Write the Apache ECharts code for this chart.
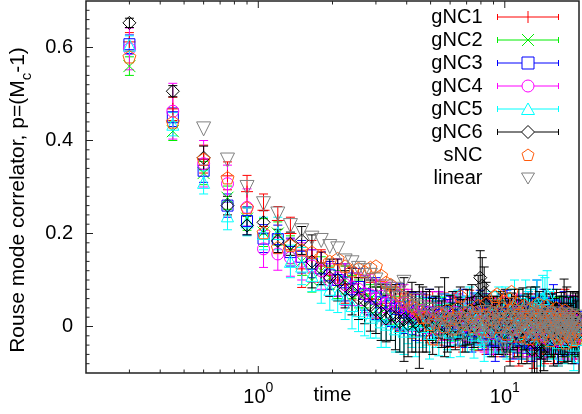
<!DOCTYPE html>
<html><head><meta charset="utf-8">
<script src="https://cdn.jsdelivr.net/npm/echarts@6/dist/echarts.min.js"></script>
<style>html,body{margin:0;padding:0;background:#fff}#c{width:582px;height:414px}</style>
</head><body><div id="c"></div>
<script>
const times = [
0.3,0.45,0.6,0.75,0.9,1.05,1.2,1.35,1.5,1.65,
1.8,1.95,2.1,2.25,2.4,2.55,2.7,2.85,3.0,3.15,
3.3,3.45,3.6,3.75,3.9,4.05,4.2,4.35,4.5,4.65,
4.8,4.95,5.1,5.25,5.4,5.55,5.7,5.85,6.0,6.15,
6.3,6.45,6.6,6.75,6.9,7.05,7.2,7.35,7.5,7.65,
7.8,7.95,8.1,8.25,8.4,8.55,8.7,8.85,9.0,9.15,
9.3,9.45,9.6,9.75,9.9,10.05,10.2,10.35,10.5,10.65,
10.8,10.95,11.1,11.25,11.4,11.55,11.7,11.85,12.0,12.15,
12.3,12.45,12.6,12.75,12.9,13.05,13.2,13.35,13.5,13.65,
13.8,13.95,14.1,14.25,14.4,14.55,14.7,14.85,15.0,15.15,
15.3,15.45,15.6,15.75,15.9,16.05,16.2,16.35,16.5,16.65,
16.8,16.95,17.1,17.25,17.4,17.55,17.7,17.85,18.0,18.15,
18.3,18.45,18.6,18.75,18.9,19.05,19.2,19.35,19.5,19.65,
19.8,19.95];

const gNC1_y = [
0.612,0.468,0.36,0.324,0.29,0.25,0.228,0.2,0.124,0.15,
0.13,0.11,0.1,0.09,0.092,0.075,0.07,0.06,0.058,0.05,
0.045,0.05,0.04,0.03,0.045,0.035,0.02,0.03,0.025,0.015,
0.028,0.01,0.035,0.018,0.005,0.03,0.022,0.012,0.0,0.025,
0.015,0.03,0.005,-0.01,0.02,0.012,0.028,-0.005,0.01,0.02,
-0.012,0.015,0.005,0.025,-0.02,0.0,0.018,0.008,-0.015,0.01,
0.022,-0.005,0.012,-0.025,0.005,0.015,-0.01,0.02,-0.03,0.0,
0.01,-0.018,0.025,-0.005,-0.035,0.008,0.015,-0.02,0.005,-0.012,
0.02,-0.03,0.0,0.012,-0.015,-0.04,0.01,0.025,-0.008,-0.02,
0.005,0.018,-0.025,-0.01,0.015,-0.035,0.0,0.02,-0.015,0.008,
-0.022,0.01,-0.005,0.028,-0.03,-0.012,0.015,0.0,-0.04,0.012,
-0.008,0.02,-0.025,0.005,-0.015,0.03,-0.02,0.0,0.01,-0.03,
0.015,-0.01,-0.035,0.008,0.02,-0.018,0.0,-0.025,0.012,-0.005,
0.018,-0.02];
const gNC1_err = [
0.02,0.025,0.03,0.03,0.035,0.035,0.03,0.035,0.04,0.035,
0.035,0.03,0.035,0.04,0.035,0.03,0.04,0.035,0.04,0.035,
0.04,0.035,0.045,0.04,0.035,0.04,0.045,0.04,0.035,0.045,
0.04,0.045,0.04,0.035,0.045,0.04,0.05,0.04,0.045,0.04,
0.045,0.04,0.05,0.045,0.04,0.045,0.05,0.04,0.045,0.05,
0.04,0.045,0.05,0.045,0.04,0.05,0.045,0.04,0.05,0.045,
0.04,0.05,0.045,0.04,0.05,0.045,0.05,0.04,0.045,0.05,
0.045,0.05,0.04,0.045,0.05,0.04,0.045,0.05,0.045,0.04,
0.05,0.045,0.04,0.05,0.045,0.05,0.04,0.045,0.05,0.045,
0.04,0.05,0.045,0.05,0.04,0.045,0.05,0.045,0.04,0.05,
0.045,0.05,0.04,0.045,0.05,0.045,0.04,0.05,0.045,0.05,
0.04,0.045,0.05,0.045,0.04,0.05,0.045,0.05,0.04,0.045,
0.05,0.045,0.04,0.05,0.045,0.04,0.05,0.045,0.05,0.04,
0.045,0.05];

const gNC2_y = [
0.56,0.42,0.33,0.277,0.232,0.202,0.2,0.165,0.14,0.099,
0.12,0.105,0.09,0.1,0.085,0.07,0.075,0.06,0.055,0.05,
0.04,0.048,0.035,0.04,0.03,0.025,0.035,0.02,0.03,0.015,
0.025,0.02,0.01,0.03,0.015,0.022,0.005,0.02,0.012,0.028,
0.0,0.015,0.025,0.008,-0.005,0.02,0.01,0.03,-0.01,0.012,
0.02,0.0,-0.015,0.018,0.005,0.025,-0.008,0.01,0.015,-0.02,
0.008,0.02,-0.01,0.0,0.015,-0.025,0.01,0.005,-0.012,0.022,
-0.005,0.012,-0.02,0.018,0.0,-0.03,0.01,0.02,-0.015,0.005,
-0.008,0.015,0.025,-0.02,0.0,0.01,-0.025,0.018,-0.005,0.012,
-0.03,0.005,0.02,-0.012,0.008,-0.02,0.015,-0.005,0.025,-0.015,
0.0,0.012,-0.028,0.018,-0.008,0.005,-0.018,0.022,0.0,-0.012,
0.015,-0.025,0.008,0.0,-0.015,0.02,-0.005,-0.03,0.01,0.005,
-0.02,0.012,0.0,-0.01,0.025,-0.022,0.008,-0.005,0.015,-0.028,
0.002,0.01];
const gNC2_err = [
0.02,0.02,0.025,0.025,0.025,0.03,0.025,0.03,0.03,0.025,
0.03,0.025,0.03,0.03,0.025,0.03,0.035,0.03,0.03,0.035,
0.03,0.035,0.03,0.04,0.035,0.03,0.035,0.04,0.03,0.035,
0.035,0.03,0.04,0.035,0.03,0.04,0.035,0.03,0.035,0.04,
0.03,0.035,0.04,0.03,0.035,0.04,0.035,0.03,0.04,0.035,
0.035,0.04,0.03,0.035,0.04,0.035,0.03,0.04,0.035,0.03,
0.04,0.035,0.03,0.04,0.035,0.04,0.03,0.035,0.04,0.035,
0.03,0.04,0.035,0.03,0.04,0.035,0.035,0.04,0.03,0.035,
0.04,0.03,0.035,0.04,0.035,0.03,0.04,0.035,0.04,0.03,
0.035,0.04,0.03,0.035,0.04,0.035,0.03,0.04,0.035,0.04,
0.03,0.035,0.04,0.035,0.03,0.04,0.035,0.04,0.03,0.035,
0.04,0.035,0.03,0.04,0.035,0.03,0.04,0.035,0.035,0.04,
0.03,0.035,0.04,0.03,0.035,0.04,0.035,0.03,0.04,0.035,
0.035,0.04];

const gNC3_y = [
0.607,0.45,0.335,0.26,0.227,0.189,0.188,0.16,0.15,0.135,
0.125,0.11,0.1,0.095,0.08,0.085,0.07,0.065,0.06,0.052,
0.05,0.045,0.038,0.042,0.03,0.035,0.028,0.02,0.032,0.025,
0.018,0.03,0.022,0.01,0.025,0.015,0.03,0.008,0.02,0.012,
0.025,0.005,0.018,0.03,0.0,0.015,0.01,-0.01,0.022,0.005,
0.012,0.028,-0.005,0.01,0.02,-0.015,0.008,0.015,0.0,-0.03,
-0.01,0.012,0.005,0.02,-0.02,0.01,0.028,-0.005,0.0,0.015,
-0.025,0.008,0.018,-0.012,0.005,0.022,-0.03,0.0,0.012,-0.008,
0.015,0.03,-0.015,0.002,-0.035,0.01,0.02,-0.01,0.05,0.025,
-0.02,0.008,-0.005,0.015,0.035,-0.012,0.0,0.018,-0.025,0.01,
0.005,-0.015,0.02,0.045,0.0,-0.01,0.012,-0.03,0.008,0.02,
-0.005,0.015,-0.02,0.01,0.03,-0.012,0.0,0.018,-0.025,0.005,
0.012,-0.008,0.02,-0.018,0.0,0.01,-0.03,0.015,-0.005,0.008,
-0.015,0.02];
const gNC3_err = [
0.02,0.02,0.025,0.025,0.03,0.03,0.03,0.03,0.035,0.03,
0.035,0.03,0.035,0.04,0.035,0.04,0.035,0.04,0.045,0.04,
0.04,0.045,0.04,0.05,0.045,0.04,0.045,0.05,0.04,0.045,
0.045,0.05,0.04,0.045,0.05,0.045,0.04,0.05,0.045,0.04,
0.05,0.045,0.04,0.05,0.045,0.05,0.04,0.045,0.05,0.045,
0.04,0.05,0.045,0.04,0.05,0.045,0.05,0.04,0.045,0.045,
0.05,0.045,0.04,0.05,0.045,0.04,0.05,0.045,0.05,0.04,
0.045,0.05,0.04,0.045,0.05,0.045,0.04,0.05,0.045,0.05,
0.04,0.045,0.05,0.045,0.04,0.05,0.045,0.04,0.05,0.045,
0.05,0.04,0.045,0.05,0.045,0.04,0.05,0.045,0.04,0.05,
0.045,0.04,0.05,0.045,0.05,0.04,0.045,0.05,0.045,0.04,
0.05,0.045,0.04,0.05,0.045,0.05,0.04,0.045,0.05,0.045,
0.04,0.05,0.045,0.04,0.05,0.045,0.05,0.04,0.045,0.05,
0.045,0.04];

const gNC4_y = [
0.597,0.463,0.35,0.307,0.256,0.167,0.156,0.148,0.14,0.13,
0.12,0.1,0.105,0.09,0.085,0.08,0.07,0.068,0.06,0.065,
0.05,0.055,0.045,0.04,0.05,0.035,0.04,0.03,0.025,0.035,
0.02,0.03,0.025,0.015,0.03,0.01,0.025,0.02,0.005,0.018,
0.03,0.01,0.02,0.0,0.015,0.025,0.005,0.018,0.03,-0.005,
0.01,0.02,0.005,-0.01,0.025,0.012,0.0,0.02,-0.015,0.008,
0.015,-0.005,0.025,0.0,0.01,-0.02,0.018,0.005,-0.01,0.012,
0.02,-0.015,0.005,0.03,-0.008,0.01,-0.025,0.015,0.0,0.022,
-0.012,0.005,0.018,-0.02,0.01,0.0,0.025,-0.03,0.008,-0.005,
0.015,-0.018,0.022,0.0,-0.01,0.012,-0.025,0.005,0.018,-0.008,
0.01,-0.02,0.0,0.015,-0.012,0.025,-0.005,0.008,-0.03,0.012,
0.0,0.018,-0.015,0.005,0.02,-0.025,0.01,-0.008,0.015,0.0,
-0.018,0.022,0.005,-0.012,0.01,-0.03,0.018,0.0,-0.01,0.012,
-0.02,0.005];
const gNC4_err = [
0.045,0.06,0.05,0.04,0.04,0.04,0.035,0.04,0.04,0.035,
0.04,0.035,0.04,0.045,0.04,0.035,0.04,0.045,0.04,0.035,
0.045,0.04,0.035,0.045,0.04,0.045,0.035,0.04,0.045,0.04,
0.035,0.045,0.04,0.035,0.045,0.04,0.045,0.035,0.04,0.045,
0.04,0.035,0.045,0.04,0.045,0.035,0.04,0.045,0.04,0.035,
0.045,0.04,0.035,0.045,0.04,0.045,0.035,0.04,0.045,0.04,
0.035,0.045,0.04,0.045,0.035,0.04,0.045,0.04,0.035,0.045,
0.04,0.035,0.045,0.04,0.045,0.035,0.04,0.045,0.04,0.035,
0.045,0.04,0.035,0.045,0.04,0.045,0.035,0.04,0.045,0.04,
0.035,0.045,0.04,0.045,0.035,0.04,0.045,0.04,0.035,0.045,
0.04,0.035,0.045,0.04,0.045,0.035,0.04,0.045,0.04,0.035,
0.045,0.04,0.035,0.045,0.04,0.045,0.035,0.04,0.045,0.04,
0.035,0.045,0.04,0.045,0.035,0.04,0.045,0.04,0.035,0.045,
0.04,0.045];

const gNC5_y = [
0.605,0.435,0.31,0.238,0.225,0.2,0.2,0.14,0.13,0.11,
0.09,0.08,0.07,0.06,0.045,0.034,0.03,0.02,0.025,0.01,
0.005,0.015,-0.005,0.0,-0.01,0.008,0.005,-0.01,0.015,0.0,
0.01,-0.015,0.02,0.005,-0.008,0.015,0.025,0.0,-0.012,0.018,
0.005,0.028,-0.01,0.012,0.02,-0.005,0.03,0.008,-0.018,0.015,
0.022,0.0,0.01,-0.02,0.018,0.005,-0.01,0.025,0.012,-0.005,
0.02,0.035,-0.012,0.008,0.0,0.04,-0.02,0.015,0.03,-0.008,
0.012,0.045,0.0,-0.015,0.025,0.01,-0.025,0.018,0.005,0.05,
-0.01,0.02,0.008,0.035,-0.02,0.0,0.015,0.04,0.05,-0.012,
0.01,0.025,-0.03,0.06,0.018,0.055,-0.008,0.07,0.0,-0.02,
0.02,0.008,-0.015,0.03,0.0,-0.025,0.015,0.005,-0.035,0.012,
0.0,-0.018,0.02,-0.008,0.01,-0.03,0.005,0.015,-0.02,0.0,
0.012,-0.025,0.008,-0.01,0.018,-0.04,0.0,0.01,-0.015,0.005,
-0.028,0.01];
const gNC5_err = [
0.02,0.025,0.025,0.03,0.03,0.035,0.035,0.035,0.04,0.035,
0.04,0.045,0.04,0.045,0.05,0.045,0.05,0.045,0.05,0.055,
0.05,0.045,0.05,0.055,0.05,0.045,0.05,0.055,0.05,0.045,
0.05,0.055,0.045,0.05,0.055,0.05,0.045,0.05,0.055,0.05,
0.045,0.05,0.055,0.05,0.045,0.05,0.055,0.045,0.05,0.055,
0.05,0.045,0.05,0.055,0.05,0.045,0.055,0.05,0.045,0.05,
0.055,0.05,0.045,0.05,0.055,0.045,0.05,0.055,0.05,0.045,
0.05,0.055,0.045,0.05,0.055,0.05,0.045,0.05,0.055,0.05,
0.045,0.055,0.05,0.045,0.05,0.055,0.05,0.045,0.05,0.055,
0.05,0.045,0.055,0.05,0.045,0.05,0.055,0.05,0.045,0.05,
0.055,0.05,0.045,0.05,0.055,0.045,0.05,0.055,0.05,0.045,
0.05,0.055,0.045,0.05,0.055,0.05,0.045,0.05,0.055,0.05,
0.045,0.05,0.055,0.05,0.045,0.055,0.05,0.045,0.05,0.055,
0.05,0.045];

const gNC6_y = [
0.653,0.506,0.363,0.26,0.217,0.224,0.184,0.178,0.185,0.14,
0.125,0.105,0.1,0.08,0.075,0.06,0.056,0.045,0.035,0.03,
0.017,0.025,0.02,0.01,0.015,0.005,0.02,0.01,0.0,0.015,
0.01,0.025,0.0,0.015,0.03,0.005,0.02,-0.005,0.012,0.025,
0.0,0.018,0.03,0.008,-0.01,0.02,0.012,0.035,0.0,0.015,
0.06,0.105,0.088,0.073,0.045,0.02,0.01,-0.01,0.02,0.005,
0.02,-0.005,0.025,0.01,-0.015,0.03,0.0,0.015,-0.025,0.022,
0.0,0.035,0.01,-0.015,0.02,0.012,-0.03,0.028,-0.005,0.015,
-0.02,0.02,0.005,0.03,-0.05,0.01,-0.035,0.025,-0.04,0.005,
0.02,-0.055,-0.01,0.015,-0.03,0.0,0.03,-0.015,0.01,-0.005,
0.02,-0.01,0.025,-0.025,0.01,-0.005,0.035,0.0,-0.02,0.015,
-0.005,0.028,-0.015,0.01,0.012,-0.01,0.005,0.03,-0.025,0.018,
-0.005,0.02,0.005,-0.02,0.025,0.01,-0.015,0.022,0.0,0.015,
-0.015,0.02];
const gNC6_err = [
0.01,0.012,0.025,0.02,0.02,0.025,0.025,0.025,0.03,0.057,
0.035,0.04,0.045,0.04,0.05,0.045,0.05,0.055,0.05,0.06,
0.05,0.055,0.07,0.065,0.09,0.07,0.075,0.065,0.09,0.07,
0.065,0.055,0.06,0.05,0.055,0.05,0.085,0.05,0.055,0.05,
0.05,0.045,0.055,0.05,0.045,0.06,0.05,0.055,0.045,0.05,
0.05,0.058,0.06,0.055,0.05,0.045,0.05,0.055,0.045,0.05,
0.045,0.055,0.05,0.06,0.045,0.05,0.055,0.045,0.06,0.05,
0.05,0.045,0.055,0.05,0.06,0.045,0.05,0.055,0.045,0.05,
0.06,0.05,0.045,0.055,0.07,0.05,0.065,0.06,0.07,0.05,
0.055,0.07,0.06,0.05,0.065,0.055,0.05,0.06,0.045,0.055,
0.05,0.055,0.045,0.06,0.05,0.055,0.045,0.05,0.06,0.05,
0.055,0.045,0.05,0.055,0.09,0.05,0.045,0.055,0.05,0.045,
0.05,0.055,0.045,0.06,0.05,0.055,0.045,0.05,0.055,0.06,
0.05,0.055];

const sNC_y = [
0.58,0.44,0.36,0.32,0.256,0.202,0.17,0.175,0.165,0.16,
0.15,0.14,0.146,0.13,0.12,0.125,0.118,0.127,0.13,0.11,
0.095,0.09,0.075,0.067,0.055,0.06,0.045,0.04,0.034,0.02,
0.02,0.005,-0.026,0.01,0.03,0.025,0.0,0.035,0.015,-0.005,
0.02,0.04,0.066,0.01,0.028,0.005,0.035,0.022,0.0,0.03,
0.045,0.01,-0.005,0.025,0.05,0.018,-0.01,0.032,0.015,0.065,
0.07,0.03,0.0,0.04,0.055,0.01,-0.015,0.025,0.06,0.075,
0.04,-0.005,0.02,0.05,-0.02,0.03,0.01,-0.01,0.045,0.018,
0.0,0.035,-0.025,0.022,0.04,0.005,0.028,-0.015,0.015,0.05,
-0.005,0.02,0.035,-0.02,0.01,0.03,0.0,0.045,-0.01,0.022,
-0.03,0.015,0.032,-0.005,0.02,-0.015,0.04,0.01,-0.025,0.025,
0.0,0.03,-0.02,0.015,-0.01,0.035,-0.035,0.02,-0.005,0.01,
0.028,-0.02,0.0,0.015,-0.03,0.022,-0.01,0.01,-0.025,0.02,
-0.005,-0.015];

const linear_y = [
null,null,0.425,0.358,0.299,0.264,0.242,0.217,0.206,0.19,
0.185,0.172,0.167,0.141,0.137,0.125,0.12,0.11,0.1,0.077,
0.085,0.07,0.08,0.06,0.095,0.05,0.045,0.056,0.04,0.03,
0.02,0.035,0.01,0.0,0.025,-0.01,0.015,0.005,-0.005,0.025,
0.01,-0.03,0.0,0.015,-0.015,0.027,0.005,-0.01,0.02,-0.005,
0.015,-0.015,0.005,0.03,-0.025,0.0,0.02,-0.01,0.01,0.025,
-0.02,0.005,0.015,-0.005,-0.03,-0.05,0.02,0.0,-0.015,0.015,
-0.005,0.025,-0.02,0.01,-0.01,0.03,0.005,-0.025,0.015,-0.005,
0.02,-0.015,0.0,0.035,-0.01,0.01,-0.02,0.025,-0.005,0.015,
-0.025,0.005,0.03,-0.01,0.01,-0.015,0.02,0.0,-0.02,0.025,
-0.005,0.015,-0.015,0.005,0.027,-0.01,-0.025,0.015,0.0,-0.015,
0.02,-0.005,0.005,-0.02,0.015,-0.01,0.025,0.0,-0.015,0.01,
-0.005,0.023,-0.02,0.005,-0.01,0.015,-0.025,0.0,0.02,-0.015,
0.005,-0.005];

const xMajorTicks = [1, 10];
const xMinorTicks = [0.3,0.4,0.5,0.6,0.7,0.8,0.9,2,3,4,5,6,7,8,9];
const yMajorTicks = [0, 0.2, 0.4, 0.6];
const X_MIN = 0.2, X_MAX = 20, Y_MIN = -0.1, Y_MAX = 0.7;

const FONT = '"Liberation Sans", Arial, sans-serif';
const AXIS_COLOR = '#222';

function pts(ys) {
  const out = [];
  for (let i = 0; i < times.length; i++) {
    const v = ys[i];
    if (v === null || v === undefined) continue;
    out.push([times[i], v]);
  }
  return out;
}
function errPts(ys, es) {
  const out = [];
  for (let i = 0; i < times.length; i++) {
    const v = ys[i], e = es[i];
    if (v === null || v === undefined || e === undefined) continue;
    out.push([times[i], v, e]);
  }
  return out;
}
function errRender(color) {
  return function (params, api) {
    const x = api.value(0), y = api.value(1), e = api.value(2);
    const hi = api.coord([x, y + e]), lo = api.coord([x, y - e]);
    const w = 4.5;
    const st = { stroke: color, lineWidth: 1, fill: null };
    return { type: 'group', children: [
      { type: 'line', shape: { x1: hi[0], y1: hi[1], x2: lo[0], y2: lo[1] }, style: st },
      { type: 'line', shape: { x1: hi[0] - w, y1: hi[1], x2: hi[0] + w, y2: hi[1] }, style: st },
      { type: 'line', shape: { x1: lo[0] - w, y1: lo[1], x2: lo[0] + w, y2: lo[1] }, style: st }
    ]};
  };
}

const BOX = 'M0,0M61,14';
const BAR = 'M0,4L0,10M61,4L61,10';
const defs = [
  { name: 'gNC1', y: gNC1_y, e: gNC1_err, color: '#ff0000', symbol: 'path://M6,0L6,12M0,6L12,6', size: 12, rotate: 0,
    icon: 'path://' + BOX + BAR + 'M0,7L61,7M30.5,1L30.5,13' },
  { name: 'gNC2', y: gNC2_y, e: gNC2_err, color: '#00ee00', symbol: 'path://M0,0L12,12M0,12L12,0', size: 12, rotate: 0,
    icon: 'path://' + BOX + BAR + 'M0,7L61,7M24.5,1L36.5,13M24.5,13L36.5,1' },
  { name: 'gNC3', y: gNC3_y, e: gNC3_err, color: '#0000ff', symbol: 'rect', size: 11, rotate: 0,
    icon: 'path://' + BOX + BAR + 'M0,7L24.5,7M36.5,7L61,7M24.5,1L36.5,1L36.5,13L24.5,13Z' },
  { name: 'gNC4', y: gNC4_y, e: gNC4_err, color: '#ff00ff', symbol: 'circle', size: 12, rotate: 0,
    icon: 'path://' + BOX + BAR + 'M0,7L24.5,7M36.5,7L61,7M24.5,7A6,6 0 1,0 36.5,7A6,6 0 1,0 24.5,7Z' },
  { name: 'gNC5', y: gNC5_y, e: gNC5_err, color: '#00ffff', symbol: 'triangle', size: 12, rotate: 0,
    icon: 'path://' + BOX + BAR + 'M0,7L27,7M34,7L61,7M30.5,1L37,12.5L24,12.5Z' },
  { name: 'gNC6', y: gNC6_y, e: gNC6_err, color: '#000000', symbol: 'diamond', size: 13, rotate: 0,
    icon: 'path://' + BOX + BAR + 'M0,7L24,7M37,7L61,7M30.5,0.5L37,7L30.5,13.5L24,7Z' },
  { name: 'sNC', y: sNC_y, e: null, color: '#ff5a0a', symbol: 'path://M0,-1L0.951,-0.309L0.588,0.809L-0.588,0.809L-0.951,-0.309Z', size: 13, rotate: 0,
    icon: 'path://' + BOX + 'M30.5,1L36.5,5.3L34.2,12.5L26.8,12.5L24.5,5.3Z' },
  { name: 'linear', y: linear_y, e: null, color: '#808080', symbol: 'triangle', size: 14, rotate: 180,
    icon: 'path://' + BOX + 'M24,2L37,2L30.5,13Z' }
];

const series = [];
defs.forEach(function (d) {
  if (d.e) {
    series.push({
      type: 'custom', name: d.name + ' err', silent: true, clip: true,
      encode: { x: 0, y: 1 },
      data: errPts(d.y, d.e),
      renderItem: errRender(d.color)
    });
  }
  series.push({
    type: 'scatter', name: d.name, silent: true, clip: true,
    symbol: d.symbol, symbolSize: d.size, symbolRotate: d.rotate, symbolKeepAspect: true,
    itemStyle: { color: 'none', borderColor: d.color, borderWidth: 1, opacity: 1 },
    emphasis: { disabled: true },
    data: pts(d.y)
  });
});

// axis ticks (inward, mirrored top), placed through the axis scales
function tickSeries(vals, axis, len) {
  return {
    type: 'custom', name: 'ticks', silent: true, clip: false, z: 10,
    encode: { x: 0, y: 1 },
    data: vals.map(function (v) { return axis === 'x' ? [v, 0] : [1, v]; }),
    renderItem: function (params, api) {
      const st = { stroke: AXIS_COLOR, lineWidth: 1, fill: null };
      if (axis === 'x') {
        const v = api.value(0);
        const b = api.coord([v, Y_MIN]), t = api.coord([v, Y_MAX]);
        return { type: 'group', children: [
          { type: 'line', shape: { x1: b[0], y1: b[1], x2: b[0], y2: b[1] - len }, style: st },
          { type: 'line', shape: { x1: t[0], y1: t[1], x2: t[0], y2: t[1] + len }, style: st }
        ]};
      } else {
        const v = api.value(1);
        const l = api.coord([X_MIN, v]);
        return { type: 'line', shape: { x1: l[0], y1: l[1], x2: l[0] + len, y2: l[1] }, style: st };
      }
    }
  };
}
const yMinorTicks = [];
for (let k = -4; k <= 34; k++) { if (k % 10 !== 0) yMinorTicks.push(k * 0.02); }
series.push(tickSeries(xMinorTicks, 'x', 3.5));
series.push(tickSeries(xMajorTicks, 'x', 7));
series.push(tickSeries(yMinorTicks, 'y', 3.5));
series.push(tickSeries(yMajorTicks, 'y', 7));

const option = {
  animation: false,
  backgroundColor: '#fff',
  grid: { left: 84, right: -6, top: 1, bottom: 41, show: true, borderColor: AXIS_COLOR, borderWidth: 1.5, backgroundColor: 'transparent' },
  xAxis: {
    type: 'log', logBase: 10, min: X_MIN, max: X_MAX,
    axisLine: { show: false }, axisTick: { show: false }, splitLine: { show: false }, minorTick: { show: false },
    axisLabel: {
      margin: 8, showMinLabel: true, showMaxLabel: true, hideOverlap: false,
      formatter: function (v) {
        const e = Math.log10(v), r = Math.round(e);
        if (Math.abs(e - r) > 1e-6) return '';
        return '{b|10}{s|' + r + '}';
      },
      rich: {
        b: { fontSize: 20, fontFamily: FONT, color: '#000', verticalAlign: 'bottom' },
        s: { fontSize: 14, fontFamily: FONT, color: '#000', verticalAlign: 'bottom', padding: [0, 0, 12, 0] }
      }
    },
    name: 'time', nameLocation: 'middle', nameGap: 12, nameMoveOverlap: false,
    nameTextStyle: { fontSize: 20, fontFamily: FONT, color: '#000' }
  },
  yAxis: {
    type: 'value', min: Y_MIN, max: Y_MAX, interval: 0.1,
    axisLine: { show: false }, axisTick: { show: false }, splitLine: { show: false },
    axisLabel: {
      margin: 13, fontSize: 20, fontFamily: FONT, color: '#000',
      formatter: function (v) {
        const k = Math.round(v * 10);
        if (k < 0 || k % 2 !== 0) return '';
        return k === 0 ? '0' : (k / 10).toFixed(1);
      }
    },
    name: '{a|Rouse mode correlator, p=(M}{s|c}{a|-1)}',
    nameLocation: 'middle', nameGap: 52, nameRotate: 90, nameMoveOverlap: false,
    nameTextStyle: {
      fontSize: 21, fontFamily: FONT, color: '#000', padding: [0, 26, 0, 0],
      rich: {
        a: { fontSize: 21, fontFamily: FONT, color: '#000', verticalAlign: 'bottom', padding: [0, 0, 5, 0] },
        s: { fontSize: 15, fontFamily: FONT, color: '#000', verticalAlign: 'bottom' }
      }
    }
  },
  legend: {
    orient: 'vertical', right: 21, top: 7, align: 'right', padding: 0,
    itemWidth: 61, itemHeight: 14, itemGap: 3, selectedMode: false,
    textStyle: { fontSize: 20, fontFamily: FONT, color: '#000', padding: [0, 10, 0, 0], lineHeight: 20 },
    data: defs.map(function (d) {
      return { name: d.name, icon: d.icon, itemStyle: { color: 'none', borderColor: d.color, borderWidth: 1 } };
    })
  },
  series: series
};

const chart = echarts.init(document.getElementById('c'), null, { renderer: 'canvas' });
chart.setOption(option);
</script>
</body></html>
